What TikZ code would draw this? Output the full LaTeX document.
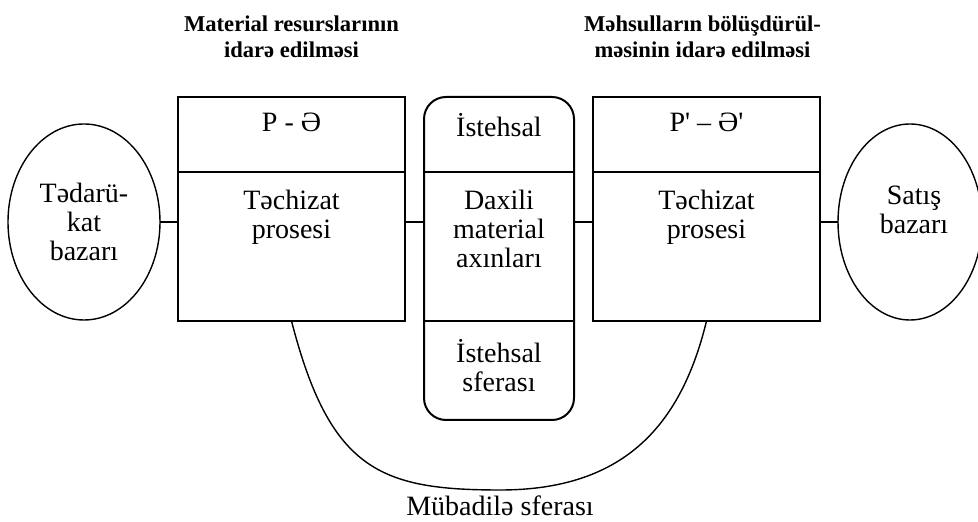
\documentclass[tikz,border=0pt]{standalone}
\usepackage{fontspec}
\setmainfont{Liberation Serif}
\usetikzlibrary{positioning, shapes.geometric}
\tikzset{
    cell/.style={draw, line width=1pt, minimum width=113.5pt, inner sep=0pt, outer sep=0pt},
    txt/.style={align=center, inner sep=0pt, font=\fontsize{14}{14.5}\selectfont},
    head/.style={align=center, inner sep=0pt, font=\fontsize{11.3}{13}\selectfont\bfseries},
    market/.style={draw, ellipse, line width=0.7pt, minimum width=76pt, minimum height=98pt, inner sep=0pt, outer sep=0pt},
    link/.style={line width=1pt}
}

\begin{document}
\begin{tikzpicture}[x=0.5pt, y=-0.5pt]
    \useasboundingbox (0,0) rectangle (978,522);
    % supply side
    \node[cell, minimum height=37.5pt, anchor=north west] (ltop) at (178,97) {};
    \node[cell, minimum height=74.5pt, anchor=north] (lbot) at (ltop.south) {};
    \node[txt, below=8pt of ltop.north] (lt) {P - Ə};
    \node[txt, below=9pt of lbot.north] (lb) {Təchizat\\prosesi};
    \node[head, above=19.5pt of ltop.north] (lhead) {Material resurslarının\\idarə edilməsi};
    % production
    \node[draw, line width=1pt, rounded corners=11pt, minimum width=75pt, minimum height=161.5pt,
          anchor=north west, outer sep=0pt] (mid) at (424,97) {};
    \draw[link] (mid.west |- ltop.south) -- (mid.east |- ltop.south);
    \draw[link] (mid.west |- lbot.south) -- (mid.east |- lbot.south);
    \node[txt, below=8pt of mid.north] (mt) {İstehsal};
    \node[txt, below=9pt of mid.north |- lbot.north] (mm) {Daxili\\material\\axınları};
    \node[txt, below=9pt of mid.north |- lbot.south] (mb) {İstehsal\\sferası};
    % sales side
    \node[cell, minimum height=37.5pt, anchor=north west] (rtop) at (593,97) {};
    \node[cell, minimum height=74.5pt, anchor=north] (rbot) at (rtop.south) {};
    \node[txt, below=8pt of rtop.north] (rt) {P\textquotesingle\ – Ə\textquotesingle};
    \node[txt, below=9pt of rbot.north] (rb) {Təchizat\\prosesi};
    \node[head, above=19.5pt of rtop.north, xshift=-2pt] (rhead) {Məhsulların bölüşdürül-\\məsinin idarə edilməsi};
    % markets
    \node[market] (buy) at (84,222) {};
    \node[txt] (buyt) at (buy.center) {Tədarü-\\kat\\bazarı};
    \node[market, minimum width=72pt] (sell) at (910,222) {};
    \node[txt, below=31pt of sell.north, xshift=2pt] (sellt) {Satış\\bazarı};
    % links
    \draw[link] (buy.east) -- (buy.east -| lbot.west);
    \draw[link] (buy.east -| lbot.east) -- (buy.east -| mid.west);
    \draw[link] (buy.east -| mid.east) -- (buy.east -| rbot.west);
    \draw[link] (buy.east -| rbot.east) -- (sell.west);
    % exchange
    \draw[line width=0.7pt] (lbot.south) .. controls (330,470) and (380,490) .. (500,490)
        .. controls (620,490) and (680,430) .. (rbot.south);
    \node[txt, anchor=base] (exch) at (500,516) {Mübadilə sferası};
\end{tikzpicture}
\end{document}
